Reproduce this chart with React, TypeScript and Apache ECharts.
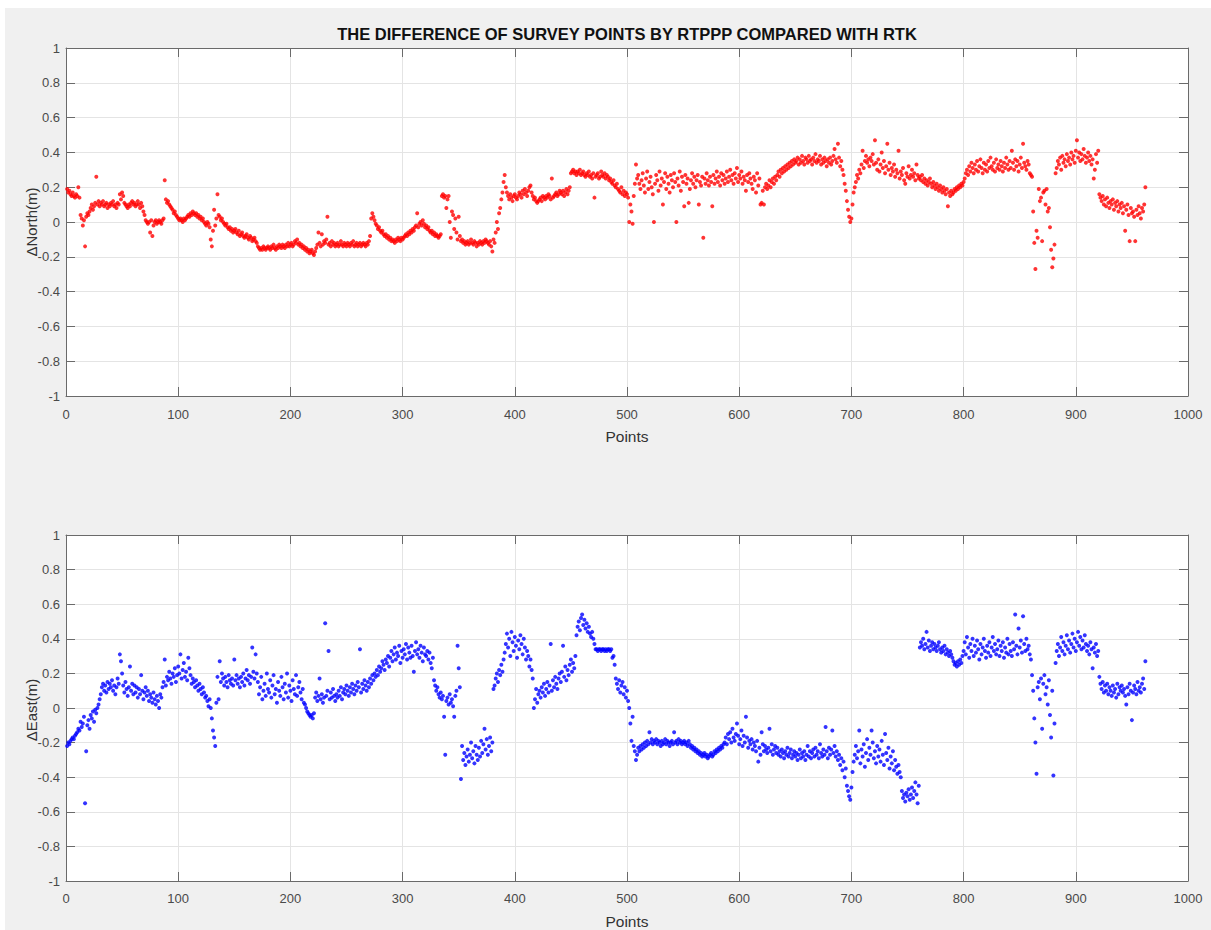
import React, { useEffect, useRef } from "react";
import * as echarts from "echarts";

const chartTitle = "THE DIFFERENCE OF SURVEY POINTS BY RTPPP COMPARED WITH RTK";
const xAxisName = "Points";
const northAxisName = "\u0394North(m)";
const eastAxisName = "\u0394East(m)";
const xMin = 0;
const xMax = 1000;
const xStep = 100;
const yMin = -1;
const yMax = 1;
const yStep = 0.2;

// ΔNorth (m), one value per survey point (point 1..962)
const deltaNorth = [
  0.19, 0.17, 0.18, 0.16, 0.15, 0.17, 0.15, 0.14, 0.16, 0.15,
  0.20, 0.14, 0.04, 0.02, -0.02, 0.01, -0.14, 0.03, 0.05, 0.04,
  0.06, 0.08, 0.10, 0.07, 0.09, 0.11, 0.26, 0.10, 0.12, 0.09,
  0.11, 0.10, 0.12, 0.09, 0.10, 0.11, 0.08, 0.10, 0.09, 0.11,
  0.10, 0.12, 0.09, 0.10, 0.08, 0.11, 0.10, 0.16, 0.13, 0.17,
  0.15, 0.11, 0.10, 0.09, 0.08, 0.10, 0.09, 0.11, 0.12, 0.10,
  0.11, 0.09, 0.10, 0.12, 0.10, 0.08, 0.11, 0.09, 0.06, 0.04,
  0.01, 0.00, -0.01, 0.00, -0.06, 0.01, -0.08, -0.02, 0.00, 0.01,
  -0.01, 0.00, 0.01, 0.00, -0.01, 0.01, 0.02, 0.24, 0.13, 0.11,
  0.12, 0.10, 0.09, 0.08, 0.07, 0.05, 0.06, 0.04, 0.03, 0.02,
  0.01, 0.02, 0.01, 0.00, 0.02, 0.01, 0.02, 0.03, 0.04, 0.03,
  0.05, 0.04, 0.06, 0.05, 0.04, 0.05, 0.03, 0.04, 0.02, 0.03,
  0.01, 0.02, 0.00, -0.01, -0.02, 0.00, -0.01, -0.03, -0.10, -0.14,
  -0.05, 0.07, -0.02, 0.02, 0.16, 0.04, 0.03, 0.01, 0.02, 0.00,
  -0.01, -0.02, -0.01, -0.03, -0.04, -0.03, -0.05, -0.04, -0.06, -0.05,
  -0.04, -0.06, -0.07, -0.05, -0.08, -0.07, -0.06, -0.08, -0.09, -0.08,
  -0.07, -0.09, -0.10, -0.08, -0.09, -0.11, -0.10, -0.09, -0.11, -0.12,
  -0.14, -0.15, -0.16, -0.15, -0.16, -0.14, -0.15, -0.16, -0.15, -0.14,
  -0.15, -0.16, -0.14, -0.15, -0.13, -0.15, -0.16, -0.14, -0.15, -0.13,
  -0.14, -0.15, -0.13, -0.14, -0.15, -0.13, -0.14, -0.12, -0.14, -0.13,
  -0.12, -0.14, -0.13, -0.11, -0.12, -0.10, -0.13, -0.12, -0.14, -0.13,
  -0.15, -0.14, -0.16, -0.15, -0.17, -0.16, -0.18, -0.17, -0.16, -0.18,
  -0.19, -0.17, -0.15, -0.13, -0.06, -0.12, -0.14, -0.07, -0.13, -0.11,
  -0.12, -0.10, 0.03, -0.13, -0.12, -0.14, -0.11, -0.13, -0.12, -0.14,
  -0.13, -0.12, -0.14, -0.13, -0.11, -0.13, -0.14, -0.12, -0.13, -0.14,
  -0.12, -0.13, -0.14, -0.12, -0.13, -0.11, -0.14, -0.13, -0.12, -0.14,
  -0.13, -0.12, -0.14, -0.13, -0.12, -0.13, -0.14, -0.12, -0.13, -0.11,
  -0.08, 0.02, 0.05, 0.03, 0.01, -0.01, -0.02, -0.04, -0.03, -0.05,
  -0.06, -0.05, -0.07, -0.08, -0.07, -0.09, -0.08, -0.10, -0.09, -0.11,
  -0.10, -0.11, -0.12, -0.10, -0.11, -0.09, -0.10, -0.11, -0.09, -0.10,
  -0.09, -0.08, -0.07, -0.08, -0.06, -0.07, -0.05, -0.06, -0.04, -0.05,
  -0.03, -0.02, 0.05, -0.03, -0.01, 0.00, -0.02, 0.01, -0.01, -0.03,
  -0.02, -0.04, -0.03, -0.05, -0.06, -0.05, -0.07, -0.06, -0.08, -0.07,
  -0.08, -0.09, -0.08, -0.07, 0.15, 0.16, 0.14, 0.15, 0.08, 0.13,
  0.15, 0.00, -0.09, 0.06, 0.04, -0.04, 0.02, -0.06, -0.10, 0.03,
  -0.08, -0.11, -0.10, -0.12, -0.11, -0.13, -0.12, -0.11, -0.13, -0.12,
  -0.10, -0.12, -0.13, -0.11, -0.12, -0.14, -0.12, -0.13, -0.11, -0.12,
  -0.13, -0.11, -0.12, -0.10, -0.11, -0.12, -0.13, -0.11, -0.14, -0.17,
  -0.10, -0.12, -0.06, 0.00, -0.04, 0.05, 0.08, 0.13, 0.17, 0.23,
  0.27, 0.20, 0.17, 0.15, 0.13, 0.16, 0.14, 0.12, 0.15, 0.16,
  0.14, 0.13, 0.15, 0.17, 0.16, 0.14, 0.18, 0.16, 0.19, 0.17,
  0.15, 0.18, 0.20, 0.21, 0.17, 0.15, 0.13, 0.14, 0.12, 0.11,
  0.12, 0.13, 0.14, 0.12, 0.15, 0.14, 0.13, 0.15, 0.14, 0.16,
  0.15, 0.13, 0.25, 0.14, 0.15, 0.16, 0.17, 0.15, 0.16, 0.18,
  0.17, 0.16, 0.18, 0.15, 0.17, 0.19, 0.16, 0.18, 0.20, 0.28,
  0.29, 0.30, 0.28, 0.29, 0.27, 0.29, 0.28, 0.30, 0.27, 0.28,
  0.29, 0.27, 0.26, 0.28, 0.27, 0.29, 0.26, 0.27, 0.25, 0.28,
  0.14, 0.26, 0.27, 0.28, 0.25, 0.26, 0.29, 0.27, 0.26, 0.28,
  0.25, 0.27, 0.26, 0.24, 0.25, 0.23, 0.22, 0.24, 0.21, 0.20,
  0.22, 0.19, 0.18, 0.17, 0.20, 0.16, 0.18, 0.15, 0.17, 0.16,
  0.14, 0.00, 0.10, 0.06, -0.01, 0.15, 0.22, 0.33, 0.25, 0.27,
  0.22, 0.19, 0.24, 0.28, 0.21, 0.17, 0.25, 0.29, 0.19, 0.23,
  0.26, 0.20, 0.16, 0.00, 0.22, 0.27, 0.24, 0.18, 0.29, 0.21,
  0.25, 0.10, 0.23, 0.28, 0.19, 0.26, 0.22, 0.17, 0.27, 0.24,
  0.20, 0.28, 0.23, 0.00, 0.25, 0.21, 0.29, 0.18, 0.26, 0.23,
  0.09, 0.27, 0.22, 0.25, 0.11, 0.19, 0.24, 0.28, 0.22, 0.26,
  0.20, 0.24, 0.27, 0.10, 0.23, 0.21, 0.26, -0.09, 0.25, 0.22,
  0.28, 0.24, 0.21, 0.26, 0.23, 0.09, 0.27, 0.22, 0.25, 0.29,
  0.23, 0.26, 0.21, 0.28, 0.24, 0.27, 0.22, 0.25, 0.29, 0.23,
  0.26, 0.30, 0.24, 0.27, 0.22, 0.28, 0.25, 0.31, 0.23, 0.27,
  0.25, 0.29, 0.22, 0.26, 0.24, 0.18, 0.27, 0.23, 0.28, 0.25,
  0.22, 0.19, 0.26, 0.24, 0.17, 0.28, 0.21, 0.25, 0.10, 0.11,
  0.18, 0.10, 0.20, 0.22, 0.19, 0.21, 0.24, 0.20, 0.23, 0.25,
  0.22, 0.26, 0.24, 0.27, 0.29, 0.26, 0.30, 0.28, 0.31, 0.29,
  0.32, 0.30, 0.33, 0.31, 0.34, 0.32, 0.35, 0.33, 0.36, 0.34,
  0.35, 0.37, 0.33, 0.36, 0.34, 0.38, 0.35, 0.33, 0.37, 0.36,
  0.34, 0.38, 0.35, 0.36, 0.33, 0.37, 0.35, 0.39, 0.34, 0.36,
  0.35, 0.38, 0.33, 0.36, 0.34, 0.37, 0.35, 0.32, 0.36, 0.34,
  0.37, 0.33, 0.35, 0.38, 0.42, 0.36, 0.34, 0.45, 0.37, 0.32,
  0.35, 0.30, 0.27, 0.22, 0.18, 0.12, 0.07, 0.03, 0.00, 0.02,
  0.10, 0.17, 0.20, 0.23, 0.27, 0.25, 0.30, 0.28, 0.33, 0.41,
  0.31, 0.35, 0.38, 0.34, 0.36, 0.32, 0.37, 0.35, 0.39, 0.33,
  0.47, 0.34, 0.30, 0.36, 0.29, 0.33, 0.40, 0.31, 0.35, 0.28,
  0.32, 0.45, 0.30, 0.34, 0.27, 0.31, 0.29, 0.33, 0.26, 0.30,
  0.28, 0.41, 0.25, 0.29, 0.27, 0.31, 0.24, 0.22, 0.28, 0.26,
  0.32, 0.25, 0.27, 0.30, 0.26, 0.28, 0.24, 0.33, 0.27, 0.25,
  0.26, 0.24, 0.27, 0.23, 0.25, 0.22, 0.24, 0.21, 0.23, 0.25,
  0.22, 0.20, 0.23, 0.21, 0.19, 0.22, 0.20, 0.18, 0.21, 0.19,
  0.17, 0.20, 0.18, 0.16, 0.19, 0.09, 0.17, 0.15, 0.18, 0.16,
  0.17, 0.19, 0.18, 0.20, 0.19, 0.21, 0.20, 0.22, 0.21, 0.23,
  0.25, 0.28, 0.30, 0.27, 0.32, 0.29, 0.34, 0.31, 0.28, 0.33,
  0.30, 0.35, 0.29, 0.32, 0.36, 0.31, 0.28, 0.34, 0.30, 0.33,
  0.29, 0.35, 0.31, 0.37, 0.32, 0.30, 0.34, 0.29, 0.36, 0.31,
  0.33, 0.30, 0.35, 0.32, 0.29, 0.34, 0.31, 0.37, 0.33, 0.30,
  0.35, 0.31, 0.41, 0.34, 0.30, 0.36, 0.32, 0.35, 0.29, 0.33,
  0.37, 0.31, 0.45, 0.34, 0.32, 0.30, 0.35, 0.33, 0.28, 0.27,
  0.26, 0.06, -0.12, -0.27, -0.05, -0.09, 0.19, 0.12, 0.14, -0.11,
  0.17, 0.18, 0.10, 0.19, 0.06, 0.08, -0.03, -0.16, -0.26, -0.21,
  -0.13, 0.28, 0.31, 0.35, 0.33, 0.37, 0.30, 0.38, 0.34, 0.36,
  0.32, 0.39, 0.35, 0.37, 0.33, 0.40, 0.36, 0.38, 0.34, 0.41,
  0.47, 0.37, 0.40, 0.35, 0.39, 0.36, 0.42, 0.38, 0.34, 0.37,
  0.40, 0.35, 0.38, 0.33, 0.36, 0.25, 0.30, 0.39, 0.34, 0.41,
  0.16, 0.14, 0.12, 0.15, 0.10, 0.13, 0.09, 0.14, 0.11, 0.08,
  0.12, 0.10, 0.13, 0.07, 0.11, 0.09, 0.12, 0.06, 0.10, 0.08,
  0.11, 0.05, 0.09, -0.05, 0.07, 0.10, 0.04, -0.11, 0.08, 0.05,
  0.06, 0.03, -0.11, 0.07, 0.04, 0.09, 0.05, 0.02, 0.08, 0.06,
  0.10, 0.20,
];

// ΔEast (m), one value per survey point (point 1..962)
const deltaEast = [
  -0.22, -0.20, -0.21, -0.19, -0.18, -0.17, -0.18, -0.16, -0.15, -0.14,
  -0.12, -0.13, -0.08, -0.11, -0.09, -0.05, -0.55, -0.25, -0.10, -0.07,
  -0.12, -0.04, -0.06, -0.02, -0.08, -0.01, -0.03, 0.00, 0.02, 0.05,
  0.08, 0.12, 0.14, 0.10, 0.13, 0.09, 0.15, 0.11, 0.14, 0.12,
  0.16, 0.10, 0.13, 0.08, 0.12, 0.17, 0.14, 0.31, 0.27, 0.20,
  0.13, 0.09, 0.15, 0.11, 0.07, 0.12, 0.24, 0.10, 0.14, 0.08,
  0.13, 0.09, 0.12, 0.06, 0.11, 0.08, 0.19, 0.10, 0.05, 0.09,
  0.12, 0.07, 0.10, 0.04, 0.08, 0.06, 0.03, 0.09, 0.05, 0.02,
  0.07, 0.04, 0.00, 0.08, 0.06, 0.12, 0.15, 0.28, 0.13, 0.18,
  0.16, 0.21, 0.17, 0.14, 0.20, 0.18, 0.23, 0.15, 0.19, 0.24,
  0.20, 0.31, 0.17, 0.22, 0.26, 0.18, 0.21, 0.16, 0.29, 0.23,
  0.19, 0.14, 0.17, 0.15, 0.12, 0.16, 0.13, 0.10, 0.14, 0.11,
  0.08, 0.12, 0.09, 0.06, 0.07, 0.04, 0.01, 0.05, 0.00, -0.06,
  -0.13, -0.17, -0.22, 0.03, 0.18, 0.05, 0.27, 0.15, 0.20, 0.17,
  0.13, 0.18, 0.15, 0.12, 0.19, 0.16, 0.14, 0.17, 0.13, 0.28,
  0.16, 0.19, 0.14, 0.17, 0.12, 0.18, 0.15, 0.20, 0.13, 0.17,
  0.22, 0.16, 0.19, 0.14, 0.18, 0.35, 0.21, 0.17, 0.31, 0.20,
  0.15, 0.08, 0.12, 0.18, 0.05, 0.10, 0.14, 0.07, 0.20, 0.11,
  0.09, 0.16, 0.06, 0.13, 0.19, 0.08, 0.11, 0.03, 0.15, 0.10,
  0.07, 0.18, 0.12, 0.05, 0.14, 0.09, 0.20, 0.06, 0.13, 0.10,
  0.04, 0.16, 0.11, 0.08, 0.19, 0.07, 0.12, 0.15, 0.09, 0.05,
  0.11, 0.03, 0.02, 0.00, -0.02, -0.03, -0.04, -0.05, -0.04, -0.06,
  -0.03, 0.06, 0.09, 0.04, 0.07, 0.17, 0.05, 0.08, 0.03, 0.06,
  0.49, 0.07, 0.10, 0.33, 0.05, 0.09, 0.06, 0.11, 0.07, 0.04,
  0.08, 0.06, 0.10, 0.07, 0.12, 0.05, 0.09, 0.11, 0.08, 0.13,
  0.10, 0.07, 0.12, 0.09, 0.14, 0.11, 0.08, 0.13, 0.10, 0.15,
  0.12, 0.34, 0.09, 0.14, 0.11, 0.16, 0.13, 0.10, 0.15, 0.12,
  0.17, 0.14, 0.19, 0.16, 0.20, 0.18, 0.22, 0.19, 0.24, 0.21,
  0.23, 0.27, 0.25, 0.22, 0.28, 0.26, 0.30, 0.24, 0.29, 0.33,
  0.27, 0.31, 0.35, 0.28, 0.32, 0.30, 0.36, 0.26, 0.33, 0.29,
  0.34, 0.31, 0.37, 0.28, 0.35, 0.32, 0.29, 0.36, 0.30, 0.21,
  0.33, 0.38, 0.31, 0.34, 0.29, 0.36, 0.32, 0.27, 0.35, 0.31,
  0.30, 0.33, 0.28, 0.32, 0.26, 0.23, 0.29, 0.16, 0.13, 0.10,
  0.12, 0.08, 0.06, 0.09, 0.05, 0.07, -0.05, -0.27, 0.04, 0.06,
  0.02, 0.08, 0.03, 0.05, 0.01, -0.05, 0.07, 0.10, 0.36, 0.23,
  0.12, -0.41, -0.22, -0.30, -0.26, -0.33, -0.28, -0.24, -0.31, -0.27,
  -0.20, -0.29, -0.25, -0.32, -0.22, -0.27, -0.30, -0.23, -0.28, -0.19,
  -0.26, -0.21, -0.12, -0.24, -0.18, -0.27, -0.22, -0.17, -0.25, -0.20,
  0.11, 0.13, 0.17, 0.20, 0.15, 0.22, 0.19, 0.25, 0.21, 0.28,
  0.32, 0.37, 0.43, 0.35, 0.40, 0.30, 0.44, 0.38, 0.33, 0.41,
  0.36, 0.29, 0.39, 0.34, 0.42, 0.37, 0.31, 0.40, 0.35, 0.28,
  0.33, 0.30, 0.24, 0.28, 0.22, 0.17, 0.00, 0.05, 0.11, 0.03,
  0.08, 0.10, 0.06, 0.12, 0.09, 0.14, 0.07, 0.11, 0.15, 0.09,
  0.13, 0.37, 0.10, 0.16, 0.12, 0.18, 0.14, 0.11, 0.17, 0.20,
  0.15, 0.21, 0.36, 0.18, 0.24, 0.16, 0.22, 0.19, 0.25, 0.28,
  0.21, 0.26, 0.23, 0.30, 0.42, 0.47, 0.50, 0.45, 0.52, 0.54,
  0.48, 0.51, 0.46, 0.49, 0.44, 0.47, 0.43, 0.41, 0.44, 0.40,
  0.37, 0.34, 0.34, 0.33, 0.34, 0.34, 0.33, 0.34, 0.34, 0.33,
  0.34, 0.33, 0.34, 0.34, 0.33, 0.34, 0.29, 0.30, 0.25, 0.17,
  0.14, 0.11, 0.16, 0.09, 0.13, 0.15, 0.08, 0.12, 0.06, 0.10,
  0.04, 0.00, -0.09, -0.19, -0.05, -0.22, -0.25, -0.30, -0.27, -0.23,
  -0.25, -0.22, -0.24, -0.21, -0.23, -0.20, -0.22, -0.19, -0.21, -0.14,
  -0.20, -0.18, -0.21, -0.19, -0.20, -0.18, -0.21, -0.19, -0.20, -0.22,
  -0.19, -0.21, -0.20, -0.18, -0.21, -0.19, -0.20, -0.22, -0.20, -0.19,
  -0.21, -0.14, -0.20, -0.19, -0.21, -0.18, -0.20, -0.19, -0.21, -0.20,
  -0.19, -0.21, -0.20, -0.22, -0.19, -0.21, -0.23, -0.22, -0.24, -0.23,
  -0.25, -0.24, -0.26, -0.25, -0.27, -0.26, -0.28, -0.27, -0.26, -0.28,
  -0.27, -0.29, -0.28, -0.27, -0.26, -0.28, -0.27, -0.25, -0.26, -0.24,
  -0.25, -0.23, -0.24, -0.22, -0.23, -0.21, -0.20, -0.17, -0.21, -0.15,
  -0.18, -0.14, -0.20, -0.12, -0.17, -0.19, -0.15, -0.09, -0.16, -0.21,
  -0.18, -0.13, -0.22, -0.16, -0.20, -0.05, -0.17, -0.23, -0.19, -0.21,
  -0.18, -0.24, -0.20, -0.22, -0.25, -0.19, -0.31, -0.23, -0.27, -0.14,
  -0.21, -0.25, -0.22, -0.24, -0.26, -0.23, -0.12, -0.25, -0.21, -0.27,
  -0.24, -0.22, -0.26, -0.23, -0.27, -0.25, -0.28, -0.24, -0.26, -0.29,
  -0.25, -0.27, -0.23, -0.28, -0.26, -0.24, -0.29, -0.27, -0.25, -0.28,
  -0.26, -0.30, -0.27, -0.24, -0.29, -0.26, -0.28, -0.25, -0.30, -0.27,
  -0.22, -0.28, -0.25, -0.29, -0.26, -0.24, -0.28, -0.23, -0.27, -0.25,
  -0.29, -0.21, -0.26, -0.28, -0.24, -0.27, -0.11, -0.25, -0.29, -0.23,
  -0.27, -0.24, -0.13, -0.26, -0.22, -0.28, -0.25, -0.30, -0.27, -0.33,
  -0.29, -0.36, -0.31, -0.40, -0.35, -0.45, -0.48, -0.51, -0.53, -0.46,
  -0.37, -0.31, -0.27, -0.22, -0.29, -0.25, -0.13, -0.32, -0.24, -0.28,
  -0.21, -0.34, -0.26, -0.18, -0.30, -0.23, -0.27, -0.13, -0.20, -0.29,
  -0.25, -0.32, -0.22, -0.28, -0.24, -0.31, -0.19, -0.27, -0.33, -0.15,
  -0.26, -0.30, -0.23, -0.35, -0.28, -0.32, -0.25, -0.36, -0.30, -0.34,
  -0.38, -0.33, -0.37, -0.40, -0.48, -0.52, -0.50, -0.54, -0.49, -0.51,
  -0.47, -0.53, -0.50, -0.46, -0.52, -0.48, -0.43, -0.50, -0.55, -0.45,
  0.35, 0.38, 0.36, 0.40, 0.34, 0.37, 0.44, 0.35, 0.39, 0.33,
  0.36, 0.38, 0.34, 0.37, 0.35, 0.33, 0.36, 0.38, 0.34, 0.32,
  0.35, 0.33, 0.36, 0.31, 0.34, 0.32, 0.30, 0.33, 0.31, 0.29,
  0.27, 0.25, 0.26, 0.24, 0.27, 0.25, 0.28, 0.26, 0.30, 0.33,
  0.38, 0.31, 0.41, 0.35, 0.29, 0.37, 0.33, 0.40, 0.30, 0.36,
  0.32, 0.39, 0.34, 0.28, 0.37, 0.31, 0.35, 0.40, 0.33, 0.29,
  0.36, 0.32, 0.38, 0.30, 0.35, 0.41, 0.33, 0.37, 0.31, 0.34,
  0.39, 0.30, 0.36, 0.33, 0.38, 0.29, 0.35, 0.32, 0.40, 0.31,
  0.37, 0.33, 0.30, 0.38, 0.34, 0.54, 0.36, 0.31, 0.46, 0.35,
  0.39, 0.32, 0.53, 0.37, 0.33, 0.40, 0.34, 0.36, 0.31, 0.28,
  0.19, 0.10, -0.06, -0.20, -0.38, 0.12, 0.15, 0.05, 0.17, -0.12,
  0.14, 0.19, 0.08, 0.12, 0.02, 0.16, -0.04, -0.17, 0.10, -0.39,
  -0.09, 0.26, 0.33, 0.37, 0.30, 0.35, 0.41, 0.33, 0.38, 0.31,
  0.36, 0.42, 0.34, 0.39, 0.32, 0.37, 0.43, 0.35, 0.40, 0.33,
  0.38, 0.44, 0.36, 0.41, 0.34, 0.39, 0.35, 0.42, 0.37, 0.33,
  0.36, 0.31, 0.38, 0.34, 0.23, 0.35, 0.32, 0.37, 0.30, 0.33,
  0.18, 0.14, 0.11, 0.15, 0.09, 0.13, 0.10, 0.14, 0.08, 0.12,
  0.10, 0.07, 0.13, 0.09, 0.11, 0.06, 0.14, 0.08, 0.12, 0.10,
  0.13, 0.09, 0.11, 0.07, 0.02, 0.12, 0.08, 0.14, 0.10, -0.07,
  0.09, 0.13, 0.11, 0.08, 0.15, 0.10, 0.12, 0.09, 0.14, 0.17,
  0.11, 0.27,
];

const FONT = "'Liberation Sans', Arial, Helvetica, sans-serif";
const AXIS_COLOR = "#6a6a6a";
const LABEL_COLOR = "#4a4a4a";
const GRID_COLOR = "#e4e4e4";

function fmtY(v: number) {
  return String(Math.round(v * 10) / 10);
}
function fmtX(v: number) {
  return String(Math.round(v));
}

function mainX(gridIndex: number, labelMargin: number) {
  return {
    type: "value",
    gridIndex,
    min: xMin,
    max: xMax,
    interval: xStep,
    position: "bottom",
    name: xAxisName,
    nameLocation: "middle",
    nameGap: 32,
    nameTextStyle: { fontFamily: FONT, fontSize: 15.5, color: "#333" },
    axisLine: { show: true, onZero: false, lineStyle: { color: AXIS_COLOR, width: 1 } },
    axisTick: { show: true, inside: true, length: 9, lineStyle: { color: AXIS_COLOR } },
    axisLabel: { fontFamily: FONT, fontSize: 13, color: LABEL_COLOR, margin: labelMargin, formatter: fmtX },
    splitLine: { show: true, lineStyle: { color: GRID_COLOR, width: 1 } },
  };
}
function topX(gridIndex: number) {
  return {
    type: "value",
    gridIndex,
    min: xMin,
    max: xMax,
    interval: xStep,
    position: "top",
    axisLine: { show: true, onZero: false, lineStyle: { color: AXIS_COLOR, width: 1 } },
    axisTick: { show: true, inside: true, length: 9, lineStyle: { color: AXIS_COLOR } },
    axisLabel: { show: false },
    splitLine: { show: false },
  };
}
function mainY(gridIndex: number) {
  return {
    type: "value",
    gridIndex,
    min: yMin,
    max: yMax,
    interval: yStep,
    position: "left",
    axisLine: { show: true, onZero: false, lineStyle: { color: AXIS_COLOR, width: 1 } },
    axisTick: { show: true, inside: true, length: 9, lineStyle: { color: AXIS_COLOR } },
    axisLabel: { fontFamily: FONT, fontSize: 13, color: LABEL_COLOR, margin: 6, formatter: fmtY },
    splitLine: { show: true, lineStyle: { color: GRID_COLOR, width: 1 } },
  };
}
function rightY(gridIndex: number) {
  return {
    type: "value",
    gridIndex,
    min: yMin,
    max: yMax,
    interval: yStep,
    position: "right",
    axisLine: { show: true, onZero: false, lineStyle: { color: AXIS_COLOR, width: 1 } },
    axisTick: { show: true, inside: true, length: 9, lineStyle: { color: AXIS_COLOR } },
    axisLabel: { show: false },
    splitLine: { show: false },
  };
}

function yName(text: string, cy: number) {
  return {
    type: "text",
    x: 31,
    y: cy,
    rotation: Math.PI / 2,
    style: {
      text,
      fontFamily: FONT,
      fontSize: 15,
      fill: "#333",
      align: "center",
      verticalAlign: "middle",
    },
  };
}

export default function App() {
  const ref = useRef<HTMLDivElement>(null);
  useEffect(() => {
    if (!ref.current) return;
    const chart = echarts.init(ref.current, null, { renderer: "svg" });
    const northPts = deltaNorth.map((v, i) => [i + 1, v]);
    const eastPts = deltaEast.map((v, i) => [i + 1, v]);
    chart.setOption({
      animation: false,
      backgroundColor: "#f0f0f0",
      graphic: [
        { type: "rect", shape: { x: 0, y: 0, width: 1211, height: 8 }, style: { fill: "#ffffff" }, silent: true },
        { type: "rect", shape: { x: 0, y: 0, width: 5, height: 930 }, style: { fill: "#ffffff" }, silent: true },
        {
          type: "text",
          x: 627,
          y: 34,
          style: {
            text: chartTitle,
            fontFamily: FONT,
            fontSize: 16.5,
            fontWeight: "bold",
            fill: "#111",
            align: "center",
            verticalAlign: "middle",
          },
        },
        yName(northAxisName, 222),
        yName(eastAxisName, 710),
      ],
      grid: [
        { left: 66, top: 48, width: 1122, height: 348, show: true, backgroundColor: "#ffffff", borderWidth: 0 },
        { left: 66, top: 535, width: 1122, height: 350, show: true, backgroundColor: "#ffffff", borderWidth: 0 },
      ],
      xAxis: [mainX(0, 12), topX(0), mainX(1, 11), topX(1)],
      yAxis: [mainY(0), rightY(0), mainY(1), rightY(1)],
      series: [
        {
          type: "scatter",
          name: northAxisName,
          xAxisIndex: 0,
          yAxisIndex: 0,
          data: northPts,
          symbol: "circle",
          symbolSize: 4,
          itemStyle: { color: "#ff0000" },
        },
        {
          type: "scatter",
          name: eastAxisName,
          xAxisIndex: 2,
          yAxisIndex: 2,
          data: eastPts,
          symbol: "circle",
          symbolSize: 4,
          itemStyle: { color: "#0000ff" },
        },
      ],
    });
    return () => chart.dispose();
  }, []);
  return (
    <div
      ref={ref}
      style={{ position: "absolute", left: 0, top: 0, width: 1211, height: 930 }}
    />
  );
}
